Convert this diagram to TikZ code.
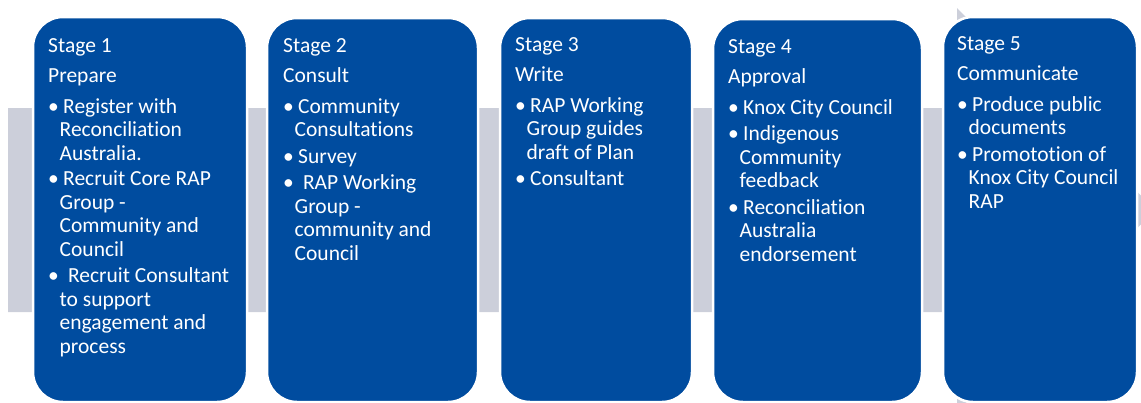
\documentclass[tikz,border=0pt]{standalone}
\usepackage{fontspec}
\setmainfont{Carlito}[Ligatures=NoCommon]
\definecolor{stageblue}{RGB}{0,76,159}
\definecolor{bandgrey}{RGB}{204,207,218}
\newcommand{\bul}{\makebox[15pt][l]{\textbullet}}
\newcommand{\cnt}{\hspace*{11.5pt}}
\tikzset{
  stagebox/.style={fill=stageblue, draw=white, line width=2.5pt, rounded corners=30pt,
    anchor=north west, inner sep=0pt, outer sep=0pt},
  stagetext/.style={anchor=north west, inner sep=0pt, align=left, text=white,
    font=\fontsize{21.5}{23.5}\selectfont}
}
\begin{document}
\begin{tikzpicture}[x=1pt,y=-1pt]
    \useasboundingbox (0,0) rectangle (1141,402);
    % grey arrow behind the stages
    \begin{scope}
        \clip (0,0) rectangle (1141,402);
        \fill[bandgrey] (8,108) -- (957,108) -- (957,8) -- (1155,210) -- (957,412) -- (957,312) -- (8,312) -- cycle;
    \end{scope}
    \foreach \n/\xa/\xb/\yt in {1/33/247/17, 2/267/478/18, 3/500/692/18, 4/713/922/19, 5/943/1137/17}
        {\node[stagebox, minimum width={(\xb-\xa)*1pt}, minimum height={(402-\yt)*1pt}] (stage\n) at (\xa,\yt) {};}

    \node[stagetext] (txt1) at (48,38) {Stage 1\\[6.5pt] Prepare\\[7.5pt]
        \bul Register with\\ \cnt Reconciliation\\ \cnt Australia.\\[2pt]
        \bul Recruit Core RAP\\ \cnt Group -\\ \cnt Community and\\ \cnt Council\\[3pt]
        \bul\ Recruit Consultant\\ \cnt to support\\ \cnt engagement and\\ \cnt process};
    \node[stagetext] (txt2) at (283,38) {Stage 2\\[6.5pt] Consult\\[7.5pt]
        \bul Community\\ \cnt Consultations\\[3pt]
        \bul Survey\\[3pt]
        \bul\ RAP Working\\ \cnt Group -\\ \cnt community and\\ \cnt Council};
    \node[stagetext] (txt3) at (515,37) {Stage 3\\[6.5pt] Write\\[7.5pt]
        \bul RAP Working\\ \cnt Group guides\\ \cnt draft of Plan\\[3pt]
        \bul Consultant};
    \node[stagetext] (txt4) at (728,39) {Stage 4\\[6.5pt] Approval\\[7.5pt]
        \bul Knox City Council\\[3pt]
        \bul Indigenous\\ \cnt Community\\ \cnt feedback\\[3pt]
        \bul Reconciliation\\ \cnt Australia\\ \cnt endorsement};
    \node[stagetext] (txt5) at (957,36) {Stage 5\\[6.5pt] Communicate\\[7.5pt]
        \bul Produce public\\ \cnt documents\\[3pt]
        \bul Promototion of\\ \cnt Knox City Council\\ \cnt RAP};
\end{tikzpicture}
\end{document}
